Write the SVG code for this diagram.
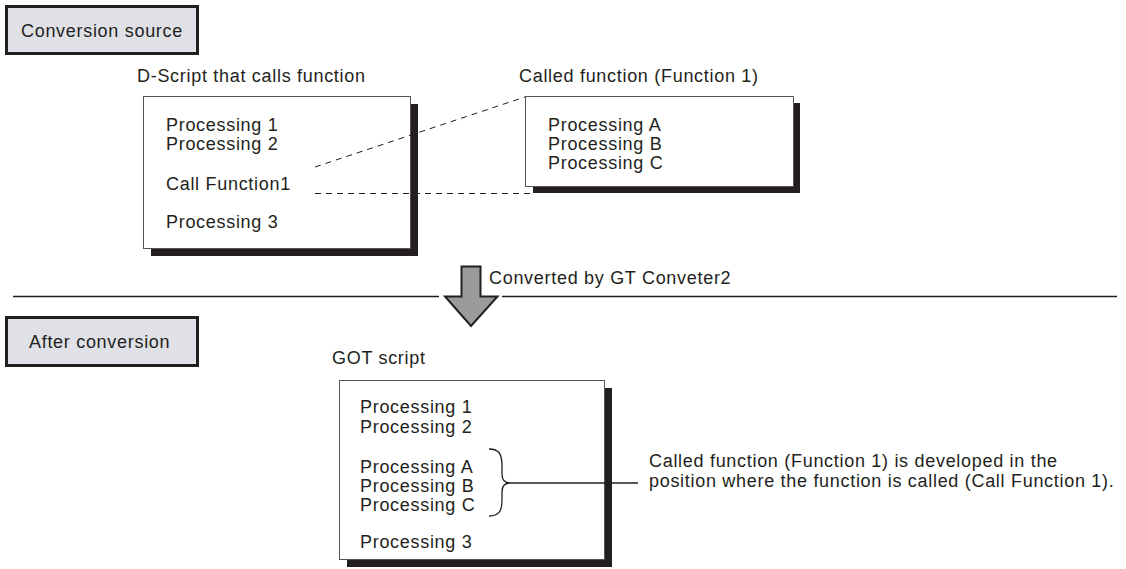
<svg xmlns="http://www.w3.org/2000/svg" width="1126" height="569" viewBox="0 0 1126 569">
<style>
text{font-family:"Liberation Sans",Arial,sans-serif;font-size:18px;letter-spacing:0.7px;fill:#231f20}
.lab{fill:#dfe1e6;stroke:#231f20;stroke-width:3}
.box{fill:#fff;stroke:#555;stroke-width:1}
.sh{fill:#231f20}
.dash{fill:none;stroke:#231f20;stroke-width:1;stroke-dasharray:6,5}
.ln{fill:none;stroke:#231f20;stroke-width:1.3}
</style>
<rect width="1126" height="569" fill="#fff"/>
<g id="label-source">
<rect class="lab" x="6.5" y="6.5" width="191" height="47"/>
<text x="21" y="37">Conversion source</text>
</g>
<g id="label-after">
<rect class="lab" x="6.5" y="317.5" width="191" height="48"/>
<text x="29" y="348">After conversion</text>
</g>
<g id="dscript">
<text x="137" y="82">D-Script that calls function</text>
<rect class="sh" x="151" y="104" width="267" height="152"/>
<rect class="box" x="143.5" y="96.5" width="267" height="152"/>
<text x="166" y="131">Processing 1</text>
<text x="166" y="150">Processing 2</text>
<text x="166" y="190">Call Function1</text>
<text x="166" y="228">Processing 3</text>
</g>
<g id="called">
<text x="519" y="82">Called function (Function 1)</text>
<rect class="sh" x="533" y="103" width="267" height="90"/>
<rect class="box" x="525.5" y="96.5" width="268" height="90"/>
<text x="548" y="131">Processing A</text>
<text x="548" y="150">Processing B</text>
<text x="548" y="169">Processing C</text>
</g>
<g id="got">
<text x="332" y="364">GOT script</text>
<rect class="sh" x="347" y="388" width="265" height="179"/>
<rect class="box" x="339.5" y="380.5" width="265" height="179"/>
<text x="360" y="413">Processing 1</text>
<text x="360" y="433">Processing 2</text>
<text x="360" y="473">Processing A</text>
<text x="360" y="492">Processing B</text>
<text x="360" y="511">Processing C</text>
<text x="360" y="548">Processing 3</text>
</g>
<g id="note">
<text x="649" y="467">Called function (Function 1) is developed in the</text>
<text x="649" y="487">position where the function is called (Call Function 1).</text>
</g>
<g id="connectors">
<path class="dash" d="M315,167 L525,97"/>
<path class="dash" d="M315,193.5 H533"/>
<path class="ln" d="M13,296.5 H439 M502,296.5 H1117"/>
<path d="M461.5,266.5 H480.5 V296.5 H497.5 L471,326 L445,296.5 H461.5 Z" fill="#9a9b9d" stroke="#231f20" stroke-width="2" stroke-linejoin="miter"/>
<text x="489" y="284">Converted by GT Conveter2</text>
<path class="ln" d="M489,449 C499,449 502,454 502,466 L502,474 C502,480 505,483 510,483 C505,483 502,486 502,492 L502,500 C502,511 499,516 489,516"/>
<path class="ln" d="M510,483 H638"/>
</g>
</svg>
